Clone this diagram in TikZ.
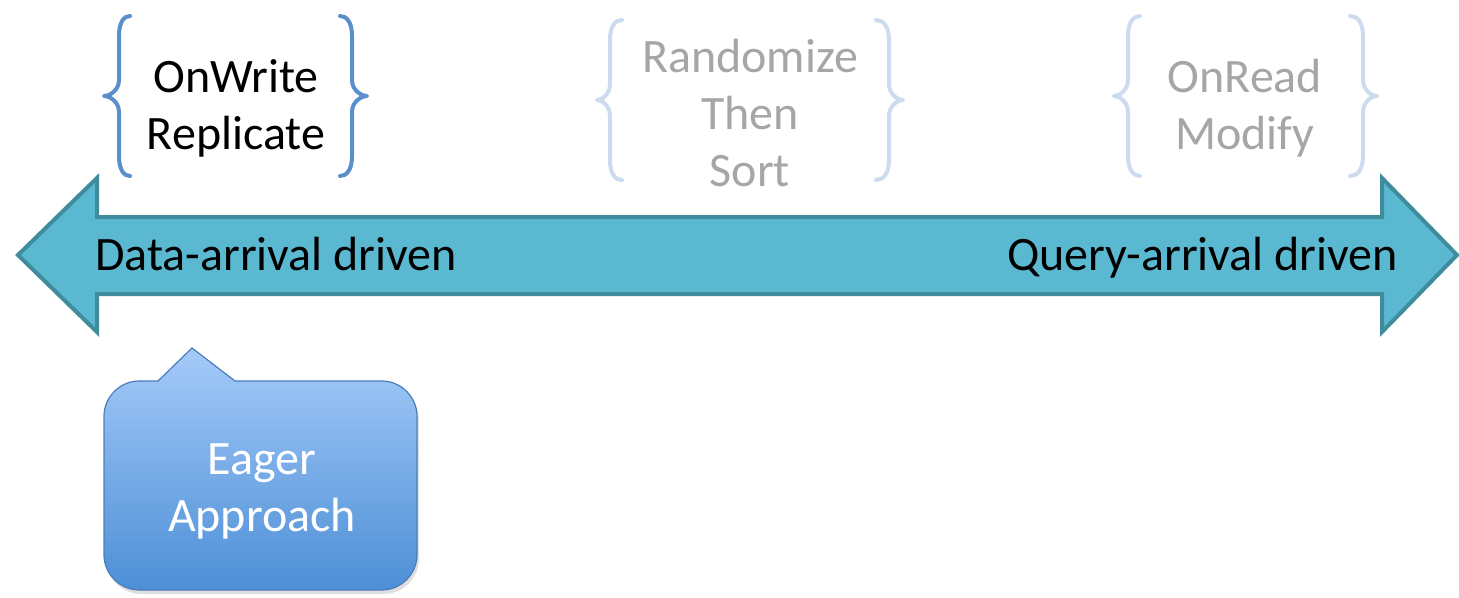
\documentclass[tikz,border=0pt]{standalone}
\usepackage{fontspec}
\setmainfont{Carlito}
\usetikzlibrary{shadows}
\definecolor{arrowfill}{HTML}{5BB8D1}
\definecolor{arrowline}{HTML}{3E8C9C}
\definecolor{bracedark}{HTML}{5A8FCB}
\definecolor{bracelight}{HTML}{CCDCEE}
\definecolor{greytext}{HTML}{A6A6A6}
\definecolor{calltop}{HTML}{A5CAF9}
\definecolor{callbot}{HTML}{4D8FD6}
\definecolor{callline}{HTML}{4A7EBB}
\tikzset{
  bracestyle/.style={line width=4pt, line cap=round, line join=round},
  lbl/.style={font=\fontsize{48}{57}\selectfont, align=center, inner sep=0pt},
}
\newcommand{\mybrace}[5]{% xe xs xl yt yb
  \draw[bracestyle] (#1,#4) .. controls ({#2+0.45*(#1-#2)},#4) and (#2,#4+6) .. (#2,#4+20)
    -- ({#2},{(#4+#5)/2-16})
    .. controls (#2,{(#4+#5)/2-6}) and ({#3+0.4*(#2-#3)},{(#4+#5)/2}) .. (#3,{(#4+#5)/2})
    .. controls ({#3+0.4*(#2-#3)},{(#4+#5)/2}) and (#2,{(#4+#5)/2+6}) .. (#2,{(#4+#5)/2+16})
    -- (#2,#5-20)
    .. controls (#2,#5-6) and ({#2+0.45*(#1-#2)},#5) .. (#1,#5);}
\begin{document}
\begin{tikzpicture}[x=1pt,y=-1pt]
\useasboundingbox (0,0) rectangle (1459,597);
% double arrow
\draw[fill=arrowfill, draw=arrowline, line width=4pt, line join=miter]
  (18,255) -- (97,178) -- (97,217) -- (1382,217) -- (1382,178) -- (1457,255)
  -- (1382,332) -- (1382,294) -- (97,294) -- (97,332) -- cycle;
\node[lbl, anchor=base west] (dad) at (95,270) {Data-arrival driven};
\node[lbl, anchor=base east] (qad) at (1398,270) {Query-arrival driven};
% braces group 1
\begin{scope}[draw=bracedark]
\mybrace{130}{119}{104}{16}{176}
\mybrace{340}{352}{367}{16}{176}
\end{scope}
\node[lbl] (owr) at (236,108) {OnWrite\\Replicate};
% group 2
\begin{scope}[draw=bracelight]
\mybrace{622}{610}{597}{20}{180}
\mybrace{876}{889}{903}{20}{180}
\end{scope}
\node[lbl, text=greytext] (rts) at (750,113) {Randomize\\Then\\Sort};
% group 3
\begin{scope}[draw=bracelight]
\mybrace{1140}{1128}{1114}{16}{176}
\mybrace{1350}{1363}{1377}{16}{176}
\end{scope}
\node[lbl, text=greytext] (orm) at (1245,108) {OnRead\\Modify};
% callout
\path[draw=callline, line width=1.2pt, top color=calltop, bottom color=callbot,
  drop shadow={opacity=0.25, shadow xshift=2pt, shadow yshift=-4pt}]
  (158,381) -- (192,348) -- (235,381) -- (382,381)
  .. controls (401,381) and (417,397) .. (417,416) -- (417,555)
  .. controls (417,574) and (401,590) .. (382,590) -- (139,590)
  .. controls (120,590) and (104,574) .. (104,555) -- (104,416)
  .. controls (104,397) and (120,381) .. (139,381) -- cycle;
\node[lbl, text=white] (eag) at (262,491) {Eager\\Approach};
\end{tikzpicture}
\end{document}
